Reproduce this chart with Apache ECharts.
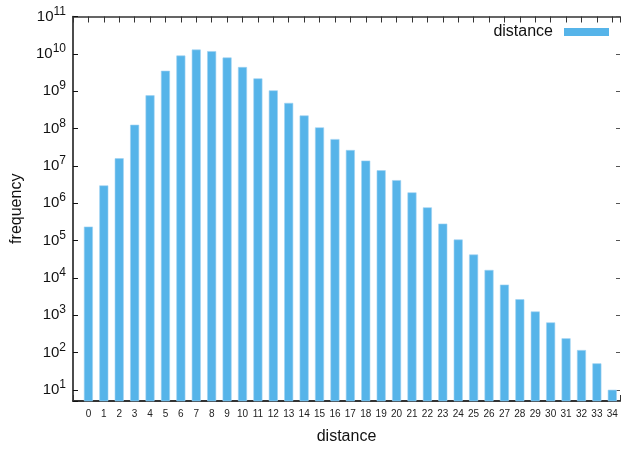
<!DOCTYPE html>
<html>
<head>
<meta charset="utf-8">
<script src="https://cdn.jsdelivr.net/npm/echarts@6/dist/echarts.min.js"></script>
<style>
html,body{margin:0;padding:0;background:#fff;}
#chart{width:623px;height:450px;}
</style>
</head>
<body>
<div id="chart"></div>
<script>
// distance categories
var distances = [0,1,2,3,4,5,6,7,8,9,10,11,12,13,14,15,16,17,18,19,20,21,22,23,24,25,26,27,28,29,30,31,32,33,34];
// frequency per distance
var frequency = [2.35e5, 2.98e6, 1.59e7, 1.26e8, 7.74e8, 3.52e9, 9.0e9, 1.30e10, 1.18e10, 7.98e9,
                 4.43e9, 2.2e9, 1.05e9, 4.85e8, 2.23e8, 1.07e8, 5.2e7, 2.65e7, 1.38e7, 7.6e6,
                 4.13e6, 1.94e6, 7.7e5, 2.83e5, 1.06e5, 4.2e4, 1.62e4, 6.56e3, 2.66e3, 1.25e3,
                 637, 239, 116, 51, 10];
// y axis range
var yMinValue = 5;
var yMaxValue = 1e11;
var seriesName = 'distance';
var xTitle = 'distance';
var yTitle = 'frequency';

var FONT = '"Liberation Sans", Arial, Helvetica, sans-serif';
var yMin = Math.log10(yMinValue);
var yMax = Math.log10(yMaxValue);
var xMin = -1, xMax = 34.5;

var data = distances.map(function (d, i) { return [d, Math.log10(frequency[i])]; });

function yLabel(v) {
  var r = Math.round(v);
  if (Math.abs(v - r) > 1e-6) return '';
  return '{b|10}{s|' + r + '}';
}
function xLabel(v) {
  if (Math.abs(v - Math.round(v)) > 1e-6 || v < 0) return '';
  return String(Math.round(v));
}

var chart = echarts.init(document.getElementById('chart'), null, {renderer: 'canvas'});
chart.setOption({
  animation: false,
  textStyle: {fontFamily: FONT},
  grid: {left: 73, right: 0, top: 16.5, bottom: 47.5, containLabel: false},
  legend: {
    show: true,
    right: 9,
    top: 19,
    align: 'right',
    itemWidth: 45,
    itemHeight: 8,
    icon: 'rect',
    itemStyle: {borderWidth: 0},
    textStyle: {fontFamily: FONT, fontSize: 16, color: '#111', padding: [0, 6, 0, 0]},
    data: [seriesName]
  },
  xAxis: [{
    type: 'value',
    min: xMin, max: xMax, interval: 1,
    position: 'bottom',
    name: xTitle,
    nameLocation: 'middle',
    nameGap: 28,
    nameTextStyle: {fontFamily: FONT, fontSize: 16, color: '#111'},
    axisLine: {show: true, onZero: false, lineStyle: {color: '#333', width: 2}},
    axisTick: {show: true, inside: true, length: 6, lineStyle: {color: '#333'}},
    axisLabel: {show: true, formatter: xLabel, fontFamily: FONT, fontSize: 10, color: '#222', margin: 8, showMinLabel: true, showMaxLabel: true, hideOverlap: false},
    splitLine: {show: false}
  }, {
    type: 'value',
    min: xMin, max: xMax, interval: 1,
    position: 'top',
    axisLine: {show: true, onZero: false, lineStyle: {color: '#333', width: 1.5}},
    axisTick: {show: true, inside: true, length: 6, lineStyle: {color: '#333'}},
    axisLabel: {show: false},
    splitLine: {show: false}
  }],
  yAxis: [{
    type: 'value',
    min: yMin, max: yMax, splitNumber: 10,
    position: 'left',
    name: yTitle,
    nameLocation: 'middle',
    nameGap: 46,
    nameRotate: 90,
    nameTextStyle: {fontFamily: FONT, fontSize: 16, color: '#111'},
    axisLine: {show: true, onZero: false, lineStyle: {color: '#111', width: 1.5}},
    axisTick: {show: true, inside: true, length: 5, lineStyle: {color: '#111'}},
    axisLabel: {
      show: true, margin: 7, formatter: yLabel,
      showMinLabel: true, showMaxLabel: true, hideOverlap: false,
      rich: {
        b: {fontFamily: FONT, fontSize: 15, color: '#111', lineHeight: 22},
        s: {fontFamily: FONT, fontSize: 12, color: '#111', verticalAlign: 'top', lineHeight: 12}
      }
    },
    splitLine: {show: false}
  }, {
    type: 'value',
    min: yMin, max: yMax, splitNumber: 10,
    position: 'right',
    axisLine: {show: false, onZero: false},
    axisTick: {show: true, inside: true, length: 4, lineStyle: {color: '#555'}},
    axisLabel: {show: false},
    splitLine: {show: false}
  }],
  series: [{
    name: seriesName,
    type: 'bar',
    xAxisIndex: 0,
    yAxisIndex: 0,
    barWidth: 9,
    clip: true,
    itemStyle: {color: '#56b4e9', borderColor: '#9fd2f2', borderWidth: 0.6},
    data: data
  }]
});
</script>
</body>
</html>
